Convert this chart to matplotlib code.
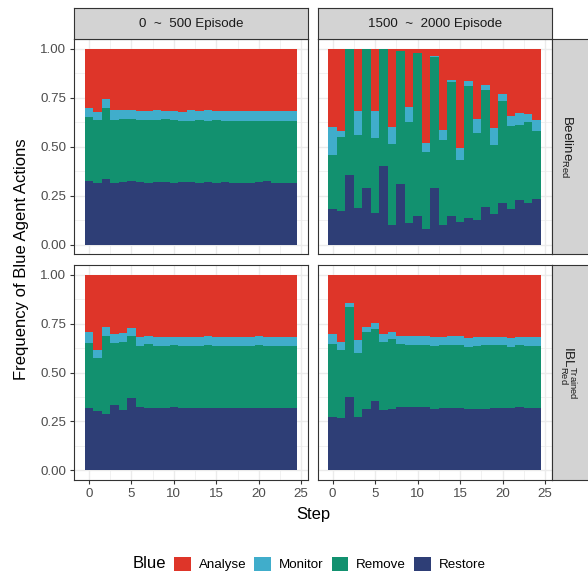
import matplotlib
matplotlib.use("Agg")
import numpy as np
import matplotlib.pyplot as plt
from matplotlib.patches import Patch

plt.rcParams["font.family"] = ["Liberation Sans", "DejaVu Sans"]
plt.rcParams["mathtext.fontset"] = "custom"
plt.rcParams["mathtext.rm"] = "Liberation Sans"
plt.rcParams["mathtext.it"] = "Liberation Sans:italic"

steps = list(range(25))
actions = ["Analyse", "Monitor", "Remove", "Restore"]
colors = {"Analyse": "#DE3529", "Monitor": "#40ADCB",
          "Remove": "#12916F", "Restore": "#2E3E76"}
col_labels = ["0  ~  500 Episode", "1500  ~  2000 Episode"]
row_labels = [r"$\mathrm{Beeline}_{\mathrm{Red}}$",
              r"$\mathrm{IBL}_{\mathrm{Red}}^{\mathrm{Trained}}$"]

# Beeline red, episodes 0-500
beeline_early_restore = [.324, .313, .337, .313, .320, .322, .318, .316, .318, .318, .316, .318, .320,
                         .316, .318, .315, .318, .316, .314, .316, .320, .322, .316, .315, .316]
beeline_early_remove = [.328, .321, .363, .321, .320, .320, .319, .319, .319, .322, .319, .314, .312,
                        .319, .314, .319, .314, .316, .318, .316, .312, .310, .316, .317, .316]
beeline_early_monitor = [.043, .044, .041, .051, .048, .046, .046, .045, .048, .043, .047, .046, .054,
                         .045, .053, .049, .051, .049, .048, .049, .050, .048, .048, .049, .049]
beeline_early_analyse = [.305, .322, .259, .315, .312, .312, .317, .320, .315, .317, .318, .322, .314,
                         .320, .315, .317, .317, .319, .320, .319, .318, .320, .320, .319, .319]

# Beeline red, episodes 1500-2000
beeline_late_restore = [.182, .169, .353, .184, .291, .160, .399, .099, .307, .111, .148, .080, .288,
                        .099, .148, .114, .133, .123, .194, .158, .213, .181, .227, .211, .230]
beeline_late_remove = [.275, .378, .647, .373, .709, .383, .598, .414, .681, .514, .832, .392, .669,
                       .436, .680, .319, .675, .449, .593, .350, .518, .424, .383, .413, .351]
beeline_late_monitor = [.143, .034, .000, .123, .000, .140, .000, .087, .000, .079, .000, .049, .006,
                        .049, .010, .061, .027, .070, .029, .085, .039, .053, .060, .044, .054]
beeline_late_analyse = [.400, .419, .000, .320, .000, .317, .003, .400, .012, .296, .020, .479, .037,
                        .416, .162, .506, .165, .358, .184, .407, .230, .342, .330, .332, .365]

# IBL trained red, episodes 0-500
ibl_early_restore = [.319, .302, .290, .334, .310, .370, .325, .319, .319, .320, .322, .317, .319,
                     .320, .318, .317, .317, .318, .318, .320, .318, .317, .319, .316, .318]
ibl_early_remove = [.332, .270, .398, .315, .348, .318, .309, .327, .318, .317, .318, .320, .318,
                    .316, .322, .318, .319, .318, .318, .317, .322, .320, .317, .319, .319]
ibl_early_monitor = [.058, .043, .045, .048, .042, .041, .046, .042, .046, .044, .043, .047, .045,
                     .047, .046, .048, .045, .046, .045, .046, .046, .047, .047, .045, .047]
ibl_early_analyse = [.291, .385, .267, .303, .300, .271, .320, .312, .317, .319, .317, .316, .318,
                     .317, .314, .317, .319, .318, .319, .317, .314, .316, .317, .320, .316]

# IBL trained red, episodes 1500-2000
ibl_late_restore = [.274, .269, .375, .273, .315, .354, .308, .315, .322, .324, .324, .325, .312,
                    .320, .320, .319, .313, .315, .312, .319, .319, .317, .322, .317, .317]
ibl_late_remove = [.373, .344, .461, .327, .394, .368, .350, .354, .324, .318, .318, .316, .323,
                   .321, .321, .323, .319, .320, .327, .323, .323, .315, .317, .320, .320]
ibl_late_monitor = [.052, .045, .019, .064, .025, .033, .037, .040, .042, .045, .043, .044, .048,
                    .042, .046, .045, .046, .045, .044, .039, .041, .044, .044, .044, .046]
ibl_late_analyse = [.301, .342, .145, .336, .266, .245, .305, .291, .312, .313, .315, .315, .317,
                    .317, .313, .313, .322, .320, .317, .319, .317, .324, .317, .319, .317]

panels = [
    [(beeline_early_restore, beeline_early_remove, beeline_early_monitor, beeline_early_analyse),
     (beeline_late_restore, beeline_late_remove, beeline_late_monitor, beeline_late_analyse)],
    [(ibl_early_restore, ibl_early_remove, ibl_early_monitor, ibl_early_analyse),
     (ibl_late_restore, ibl_late_remove, ibl_late_monitor, ibl_late_analyse)],
]

W, H = 588, 576
fig = plt.figure(figsize=(W / 100, H / 100), dpi=100)

border = "#333333"
xs = [(74, 307.6), (317.7, 551.5)]
ys = [(39, 254.3), (265, 480)]


def px_rect(x0, x1, y0, y1):
    return [x0 / W, 1 - y1 / H, (x1 - x0) / W, (y1 - y0) / H]


for r in range(2):
    for c in range(2):
        ax = fig.add_axes(px_rect(xs[c][0], xs[c][1], ys[r][0], ys[r][1]))
        restore, remove, monitor, analyse = panels[r][c]
        bottom = np.zeros(len(steps))
        for name, vals in [("Restore", restore), ("Remove", remove),
                           ("Monitor", monitor), ("Analyse", analyse)]:
            vals = np.array(vals)
            ax.bar(steps, vals, width=1.0, bottom=bottom, color=colors[name],
                   linewidth=0, zorder=2)
            bottom = bottom + vals
        ax.set_xlim(-1.75, 25.75)
        ax.set_ylim(-0.05, 1.05)
        ax.set_xticks([0, 5, 10, 15, 20, 25])
        ax.set_xticks([2.5, 7.5, 12.5, 17.5, 22.5], minor=True)
        ax.set_yticks([0, 0.25, 0.5, 0.75, 1.0])
        ax.set_yticks([0.125, 0.375, 0.625, 0.875], minor=True)
        ax.set_yticklabels(["0.00", "0.25", "0.50", "0.75", "1.00"])
        ax.grid(True, which="major", color="#EBEBEB", linewidth=1.0, zorder=0)
        ax.grid(True, which="minor", color="#EBEBEB", linewidth=0.5, zorder=0)
        ax.set_axisbelow(True)
        for s in ax.spines.values():
            s.set_color(border)
            s.set_linewidth(0.8)
        ax.tick_params(which="major", direction="out", length=3, width=0.8,
                       color=border, labelcolor="#4D4D4D", labelsize=9.6, pad=2.5)
        ax.tick_params(which="minor", length=0)
        if c == 1:
            ax.tick_params(axis="y", which="major", left=False, labelleft=False)
        if r == 0:
            ax.tick_params(axis="x", which="major", bottom=False, labelbottom=False)

# column strips
for c in range(2):
    sax = fig.add_axes(px_rect(xs[c][0], xs[c][1], 8, 39))
    sax.set_facecolor("#D3D3D3")
    sax.set_xticks([])
    sax.set_yticks([])
    for s in sax.spines.values():
        s.set_color(border)
        s.set_linewidth(0.8)
    sax.text(0.5, 0.5, col_labels[c], ha="center", va="center",
             fontsize=9.6, color="#1A1A1A", transform=sax.transAxes)

# row strips
for r in range(2):
    sax = fig.add_axes(px_rect(551.5, 592, ys[r][0], ys[r][1]))
    sax.set_facecolor("#D3D3D3")
    sax.set_xticks([])
    sax.set_yticks([])
    for s in sax.spines.values():
        s.set_color(border)
        s.set_linewidth(0.8)
    sax.text(15.5 / 40.5, 0.5, row_labels[r], ha="center", va="center", rotation=-90,
             fontsize=9.6, color="#1A1A1A", transform=sax.transAxes)

fig.text(22 / W, 1 - 259.5 / H, "Frequency of Blue Agent Actions", rotation=90,
         ha="center", va="center", fontsize=12, color="black")
fig.text(313 / W, 1 - 515 / H, "Step", ha="center", va="center", fontsize=12, color="black")

# legend
fig.text(133 / W, 1 - 564 / H, "Blue", ha="left", va="center", fontsize=12)
handles = [Patch(facecolor=colors[a], edgecolor="none", label=a) for a in actions]
fig.legend(handles=handles, ncol=4, loc="center left", bbox_to_anchor=(174 / W, 1 - 564 / H),
           frameon=False, fontsize=9.6, handlelength=1.25, handleheight=1.25,
           handletextpad=0.6, columnspacing=0.6, borderpad=0, borderaxespad=0)

fig.savefig("out.png", dpi=100)
